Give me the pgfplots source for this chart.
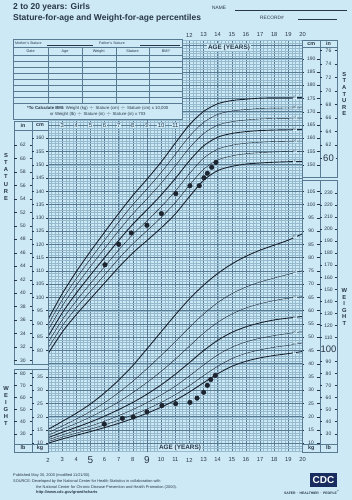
\documentclass[border=0pt]{standalone}
\usepackage{pgfplots}
\pgfplotsset{compat=1.18}
\usepackage{fontspec}
\setmainfont{Liberation Sans}
\definecolor{bg}{RGB}{206,233,246}
\definecolor{gmin}{RGB}{150,186,206}
\definecolor{gmaj}{RGB}{88,122,146}
\definecolor{ink}{RGB}{28,36,48}
\definecolor{txt}{RGB}{40,55,72}
\definecolor{cdcblue}{RGB}{24,44,96}
\newcommand{\fs}[1]{\fontsize{#1}{#1}\selectfont}
\tikzset{plabel/.style={fill=bg,inner sep=0.4pt,font=\fs{3.2}}}
\begin{document}
\begin{tikzpicture}[x=1pt,y=1pt,every node/.style={text=txt,inner sep=0pt}]
\fill[bg] (0,0) rectangle (352,500);
% ---------------- main grid and curves ----------------
\begin{axis}[at={(48pt,48pt)},anchor=south west,scale only axis,
  width=254.5pt,height=412pt,
  xmin=2,xmax=20,ymin=41.7,ymax=197.05,
  axis line style={draw=none},
  xtick={2,...,20},minor xtick={2,2.25,...,20},
  ytick={45,50,...,195},minor ytick={42,...,197},
  xticklabels={},yticklabels={},
  tick style={draw=none},
  grid=both,
  minor grid style={gmin,line width=0.25pt},
  major grid style={gmaj,line width=0.55pt},
  extra x ticks={9},extra x tick labels={},
  extra x tick style={grid style={ink,line width=0.9pt}},
  clip=false]
% stature percentiles (cm) 3,10,25,50,75,90,97
\addplot[ink,line width=0.9pt,smooth] coordinates {(2,78.71)(3,86.86)(4,93.51)(5,99.47)(6,105.41)(7,111.34)(8,116.78)(9,121.43)(10,126.19)(11,131.44)(12,137.96)(13,144.12)(14,147.80)(15,149.39)(16,150.27)(17,150.67)(18,150.97)(19,151.16)(20,151.26)};
\addplot[ink,line width=0.4pt,smooth] coordinates {(2,80.78)(3,89.17)(4,96.09)(5,102.31)(6,108.46)(7,114.58)(8,120.23)(9,125.12)(10,130.14)(11,135.70)(12,142.27)(13,148.26)(14,151.81)(15,153.34)(16,154.17)(17,154.57)(18,154.83)(19,155.0)(20,155.10)};
\addplot[ink,line width=0.4pt,smooth] coordinates {(2,82.87)(3,91.50)(4,98.70)(5,105.20)(6,111.56)(7,117.86)(8,123.72)(9,128.85)(10,134.15)(11,140.01)(12,146.64)(13,152.45)(14,155.88)(15,157.35)(16,158.12)(17,158.52)(18,158.75)(19,158.88)(20,158.98)};
\addplot[ink,line width=0.9pt,smooth] coordinates {(2,85.2)(3,94.1)(4,101.6)(5,108.4)(6,115.0)(7,121.5)(8,127.6)(9,133.0)(10,138.6)(11,144.8)(12,151.5)(13,157.1)(14,160.4)(15,161.8)(16,162.5)(17,162.9)(18,163.1)(19,163.2)(20,163.3)};
\addplot[ink,line width=0.4pt,smooth] coordinates {(2,87.53)(3,96.70)(4,104.50)(5,111.60)(6,118.44)(7,125.14)(8,131.48)(9,137.15)(10,143.05)(11,149.59)(12,156.36)(13,161.75)(14,164.92)(15,166.25)(16,166.88)(17,167.28)(18,167.45)(19,167.52)(20,167.62)};
\addplot[ink,line width=0.4pt,smooth] coordinates {(2,89.62)(3,99.03)(4,107.11)(5,114.49)(6,121.54)(7,128.42)(8,134.97)(9,140.88)(10,147.06)(11,153.90)(12,160.73)(13,165.94)(14,168.99)(15,170.26)(16,170.83)(17,171.23)(18,171.37)(19,171.40)(20,171.50)};
\addplot[ink,line width=0.9pt,smooth] coordinates {(2,91.69)(3,101.34)(4,109.69)(5,117.33)(6,124.59)(7,131.66)(8,138.42)(9,144.57)(10,151.01)(11,158.16)(12,165.04)(13,170.08)(14,173.0)(15,174.21)(16,174.73)(17,175.13)(18,175.23)(19,175.24)(20,175.34)};
% weight percentiles (kg + 35 on the shared scale)
\addplot[ink,line width=0.9pt,smooth] coordinates {(2,45.0)(3,46.6)(4,48.0)(5,49.4)(6,50.9)(7,52.5)(8,54.3)(9,56.3)(10,58.6)(11,61.2)(12,64.3)(13,67.8)(14,71.2)(15,74.0)(16,75.9)(17,77.2)(18,78.1)(19,78.8)(20,79.6)};
\addplot[ink,line width=0.4pt,smooth] coordinates {(2,45.6)(3,47.3)(4,48.8)(5,50.3)(6,51.9)(7,53.7)(8,55.7)(9,57.9)(10,60.4)(11,63.3)(12,66.7)(13,70.5)(14,74.0)(15,76.9)(16,78.9)(17,80.2)(18,81.2)(19,81.9)(20,82.8)};
\addplot[ink,line width=0.4pt,smooth] coordinates {(2,46.3)(3,48.1)(4,49.8)(5,51.5)(6,53.3)(7,55.4)(8,57.7)(9,60.3)(10,63.2)(11,66.5)(12,70.4)(13,74.5)(14,78.3)(15,81.2)(16,83.2)(17,84.6)(18,85.6)(19,86.4)(20,87.1)};
\addplot[ink,line width=0.9pt,smooth] coordinates {(2,47.1)(3,49.1)(4,51.0)(5,53.0)(6,55.2)(7,57.7)(8,60.4)(9,63.5)(10,67.0)(11,71.0)(12,75.4)(13,79.9)(14,83.8)(15,86.8)(16,88.9)(17,90.4)(18,91.5)(19,92.2)(20,92.8)};
\addplot[ink,line width=0.4pt,smooth] coordinates {(2,48.0)(3,50.3)(4,52.5)(5,54.9)(6,57.6)(7,60.6)(8,64.1)(9,67.9)(10,72.1)(11,76.7)(12,81.6)(13,86.5)(14,90.6)(15,93.7)(16,96.0)(17,97.6)(18,98.8)(19,99.7)(20,100.3)};
\addplot[ink,line width=0.4pt,smooth] coordinates {(2,49.0)(3,51.5)(4,54.1)(5,57.0)(6,60.3)(7,64.1)(8,68.4)(9,73.1)(10,78.1)(11,83.3)(12,88.7)(13,93.7)(14,98.0)(15,101.4)(16,103.9)(17,105.8)(18,107.3)(19,108.7)(20,110.1)};
\addplot[ink,line width=0.9pt,smooth] coordinates {(2,50.2)(3,53.2)(4,56.3)(5,59.8)(6,64.0)(7,68.8)(8,74.3)(9,80.6)(10,87.0)(11,93.4)(12,99.4)(13,104.6)(14,109.0)(15,112.6)(16,115.5)(17,117.8)(18,119.7)(19,121.6)(20,124.0)};
% percentile labels
\node[plabel] at (axis cs:19.45,175.3) {97};
\node[plabel] at (axis cs:19.45,171.45) {90};
\node[plabel] at (axis cs:19.45,167.55) {75};
\node[plabel] at (axis cs:19.45,163.25) {50};
\node[plabel] at (axis cs:19.45,158.95) {25};
\node[plabel] at (axis cs:19.45,155.05) {10};
\node[plabel] at (axis cs:19.45,151.2) {3};
\node[plabel] at (axis cs:19.45,123.0) {97};
\node[plabel] at (axis cs:19.45,109.5) {90};
\node[plabel] at (axis cs:19.45,100.05) {75};
\node[plabel] at (axis cs:19.45,92.55) {50};
\node[plabel] at (axis cs:19.45,86.8) {25};
\node[plabel] at (axis cs:19.45,82.45) {10};
\node[plabel] at (axis cs:19.45,79.3) {3};
% child's measurements
\addplot[only marks,mark=*,mark size=2.3pt,mark options={fill=ink,draw=ink}] coordinates {(6.03,112.3)(7.0,120.0)(7.89,124.3)(9.0,127.2)(10.02,131.6)(11.04,139.1)(12.04,142.1)(12.7,142.1)(13.03,145.1)(13.27,146.8)(13.58,149.05)(13.88,150.9)};
\addplot[only marks,mark=*,mark size=2.3pt,mark options={fill=ink,draw=ink}] coordinates {(5.98,52.2)(7.26,54.4)(8.03,54.9)(9.0,56.8)(10.06,59.2)(11.03,59.9)(12.04,60.4)(12.54,62.0)(13.01,64.2)(13.27,66.85)(13.51,69.0)(13.83,70.6)};
\end{axis}
% ---------------- header ----------------
\node[anchor=west,font=\fs{8.5}\bfseries] at (13,492.3) {2 to 20 years: Girls};
\node[anchor=west,font=\fs{8.5}\bfseries] at (13,481.5) {Stature-for-age and Weight-for-age percentiles};
\node[anchor=west,font=\fs{4.8}] at (212,492) {NAME};
\draw[txt,line width=0.3pt] (235,490) -- (347,490);
\node[anchor=west,font=\fs{4.8}] at (260,482.5) {RECORD\#};
\draw[txt,line width=0.3pt] (298,480.5) -- (337,480.5);
% ---------------- record table ----------------
\fill[bg] (13,460.3) rectangle (182.7,380.3);
\draw[gmaj,line width=0.5pt] (13,460.3) rectangle (182.7,380.3);
\draw[gmaj,line width=0.35pt] (13,453) -- (182.7,453);
\draw[gmaj,line width=0.35pt] (13,444.7) -- (182.7,444.7);
\foreach \k in {1,...,8}{\draw[gmaj,line width=0.3pt] (13,{444.7-\k*6}) -- (182.7,{444.7-\k*6});}
\foreach \xx in {48.3,81.7,115.7,149.3}{\draw[gmaj,line width=0.35pt] (\xx,453) -- (\xx,396.7);}
\node[anchor=west,font=\fs{3.6}] at (15,456.8) {Mother's Stature};
\draw[txt,line width=0.25pt] (47,455.3) -- (93,455.3);
\node[anchor=west,font=\fs{3.6}] at (99,456.8) {Father's Stature};
\draw[txt,line width=0.25pt] (140,455.3) -- (180,455.3);
\node[font=\fs{3.8}] at (30.6,448.8) {Date};
\node[font=\fs{3.8}] at (65,448.8) {Age};
\node[font=\fs{3.8}] at (98.7,448.8) {Weight};
\node[font=\fs{3.8}] at (132.5,448.8) {Stature};
\node[font=\fs{3.8}] at (166,448.8) {BMI*};
\node[font=\fs{4.3}] at (97.8,392) {\textbf{*To Calculate BMI:} Weight (kg) $\div$ Stature (cm) $\div$ Stature (cm) x 10,000};
\node[font=\fs{4.3}] at (97.8,386) {or Weight (lb) $\div$ Stature (in) $\div$ Stature (in) x 703};
% ---------------- age labels ----------------
\foreach \a in {3,...,11}{\node[fill=bg,inner sep=0.5pt,font=\fs{5.8}] at ({48+(\a-2)*14.14},374.5) {\a};}
\foreach \a in {12,...,20}{\node[font=\fs{5.8}] at ({48+(\a-2)*14.14},465) {\a};}
\foreach \a in {2,3,4,6,7,8,10,11,12,13,14,15,16,17,18,19,20}{\node[font=\fs{5.8}] at ({48+(\a-2)*14.14},40) {\a};}
\node[font=\fs{10}] at ({48+3*14.14},39.5) {5};
\node[font=\fs{10}] at ({48+7*14.14},39.5) {9};
\node[fill=bg,inner sep=0.8pt,font=\fs{6.4}\bfseries] at (229,452.5) {AGE (YEARS)};
\node[fill=bg,inner sep=0.8pt,font=\fs{6.4}\bfseries] at (180,52.5) {AGE (YEARS)};
% ---------------- left columns ----------------
\fill[bg] (14,378.3) rectangle (48,136);
\draw[gmaj,line width=0.5pt] (14,378.3) rectangle (48,136);
\draw[gmaj,line width=0.5pt] (32,378.3) -- (32,136);
\draw[gmaj,line width=0.4pt] (14,370) -- (48,370);
\node[font=\fs{5.4}\bfseries] at (23,374.5) {in};
\node[font=\fs{5.4}\bfseries] at (40,374.5) {cm};
\foreach \i in {30,32,...,62}{
  \draw[txt,line width=0.3pt] (14,{6.736*\i-62.58}) -- (16.5,{6.736*\i-62.58}) (29.5,{6.736*\i-62.58}) -- (32,{6.736*\i-62.58});
  \node[font=\fs{5}] at (23,{6.736*\i-62.58}) {\i};}
\foreach \c in {80,85,...,160}{
  \draw[txt,line width=0.3pt] (32,{2.652*\c-62.58}) -- (33.8,{2.652*\c-62.58}) (46.2,{2.652*\c-62.58}) -- (48,{2.652*\c-62.58});
  \node[font=\fs{5}] at (40,{2.652*\c-62.58}) {\c};}
\fill[bg] (14,131) rectangle (48,48);
\draw[gmaj,line width=0.5pt] (14,131) rectangle (48,48);
\draw[gmaj,line width=0.5pt] (32,131) -- (32,48);
\draw[gmaj,line width=0.4pt] (14,56) -- (48,56);
\node[font=\fs{5.4}\bfseries] at (23,52.3) {lb};
\node[font=\fs{5.4}\bfseries] at (40,52.3) {kg};
\foreach \l in {30,40,...,80}{
  \draw[txt,line width=0.3pt] (14,{1.2029*\l+30.24}) -- (16.5,{1.2029*\l+30.24}) (29.5,{1.2029*\l+30.24}) -- (32,{1.2029*\l+30.24});
  \node[font=\fs{5}] at (23,{1.2029*\l+30.24}) {\l};}
\foreach \w in {10,15,...,35}{
  \draw[txt,line width=0.3pt] (32,{2.652*\w+30.24}) -- (33.8,{2.652*\w+30.24}) (46.2,{2.652*\w+30.24}) -- (48,{2.652*\w+30.24});
  \node[font=\fs{5}] at (40,{2.652*\w+30.24}) {\w};}
% ---------------- right columns ----------------
\fill[bg] (302.5,460) rectangle (337,323);
\draw[gmaj,line width=0.5pt] (302.5,460) rectangle (337,323);
\draw[gmaj,line width=0.5pt] (320,460) -- (320,323);
\draw[gmaj,line width=0.4pt] (302.5,453) -- (337,453);
\node[font=\fs{5.4}\bfseries] at (311.2,456.3) {cm};
\node[font=\fs{5.4}\bfseries] at (328.5,456.3) {in};
\foreach \c in {150,155,...,190}{
  \draw[txt,line width=0.3pt] (302.5,{2.652*\c-62.58}) -- (304.3,{2.652*\c-62.58}) (316.7,{2.652*\c-62.58}) -- (320,{2.652*\c-62.58});
  \node[font=\fs{5}] at (311.2,{2.652*\c-62.58}) {\c};}
\foreach \i in {62,64,...,76}{
  \draw[txt,line width=0.3pt] (320,{6.736*\i-62.58}) -- (322.3,{6.736*\i-62.58}) (334.7,{6.736*\i-62.58}) -- (337,{6.736*\i-62.58});
  \node[font=\fs{5}] at (328.5,{6.736*\i-62.58}) {\i};}
\draw[txt,line width=0.3pt] (320,{6.736*60-62.58}) -- (321.5,{6.736*60-62.58}) (335.5,{6.736*60-62.58}) -- (337,{6.736*60-62.58});
\node[font=\fs{9.5}] at (328.5,{6.736*60-62.58}) {60};
\fill[bg] (302.5,320) rectangle (337,48);
\draw[gmaj,line width=0.5pt] (302.5,320) rectangle (337,48);
\draw[gmaj,line width=0.5pt] (320,320) -- (320,48);
\draw[gmaj,line width=0.4pt] (302.5,56) -- (337,56);
\node[font=\fs{5.4}\bfseries] at (311.2,52.3) {kg};
\node[font=\fs{5.4}\bfseries] at (328.5,52.3) {lb};
\foreach \w in {10,15,...,105}{
  \draw[txt,line width=0.3pt] (302.5,{2.652*\w+30.24}) -- (304.3,{2.652*\w+30.24}) (316.7,{2.652*\w+30.24}) -- (320,{2.652*\w+30.24});
  \node[font=\fs{5}] at (311.2,{2.652*\w+30.24}) {\w};}
\foreach \l in {30,40,...,90,110,120,...,230}{
  \draw[txt,line width=0.3pt] (320,{1.2029*\l+30.24}) -- (322.3,{1.2029*\l+30.24}) (334.7,{1.2029*\l+30.24}) -- (337,{1.2029*\l+30.24});
  \node[font=\fs{5}] at (328.5,{1.2029*\l+30.24}) {\l};}
\node[font=\fs{9.5}] at (328.5,{1.2029*100+30.24}) {100};
% ---------------- vertical words ----------------
\foreach \ch [count=\n] in {S,T,A,T,U,R,E}{\node[font=\fs{5.8}\bfseries] at (344.3,{500-74.3-(\n-1)*6.6}) {\ch};}
\foreach \ch [count=\n] in {W,E,I,G,H,T}{\node[font=\fs{5.8}\bfseries] at (344.3,{500-290.7-(\n-1)*6.5}) {\ch};}
\foreach \ch [count=\n] in {S,T,A,T,U,R,E}{\node[font=\fs{5.8}\bfseries] at (6,{500-155.7-(\n-1)*7.1}) {\ch};}
\foreach \ch [count=\n] in {W,E,I,G,H,T}{\node[font=\fs{5.8}\bfseries] at (6,{500-388.3-(\n-1)*7}) {\ch};}
% ---------------- footer ----------------
\node[anchor=west,font=\fs{3.9}] at (13,25) {Published May 30, 2000 (modified 11/21/00).};
\node[anchor=west,font=\fs{3.9}] at (13,18.5) {SOURCE: Developed by the National Center for Health Statistics in collaboration with};
\node[anchor=west,font=\fs{3.9}] at (36,13) {the National Center for Chronic Disease Prevention and Health Promotion (2000).};
\node[anchor=west,font=\fs{3.9}\bfseries] at (36,7.3) {http://www.cdc.gov/growthcharts};
\fill[cdcblue] (310,27) rectangle (337,13);
\node[font=\fs{10}\bfseries,text=white] at (323.5,20) {CDC};
\node[anchor=east,font=\fs{3.4}\bfseries] at (340,7.3) {SAFER $\cdot$ HEALTHIER $\cdot$ PEOPLE\textsuperscript{™}};
\end{tikzpicture}
\end{document}
